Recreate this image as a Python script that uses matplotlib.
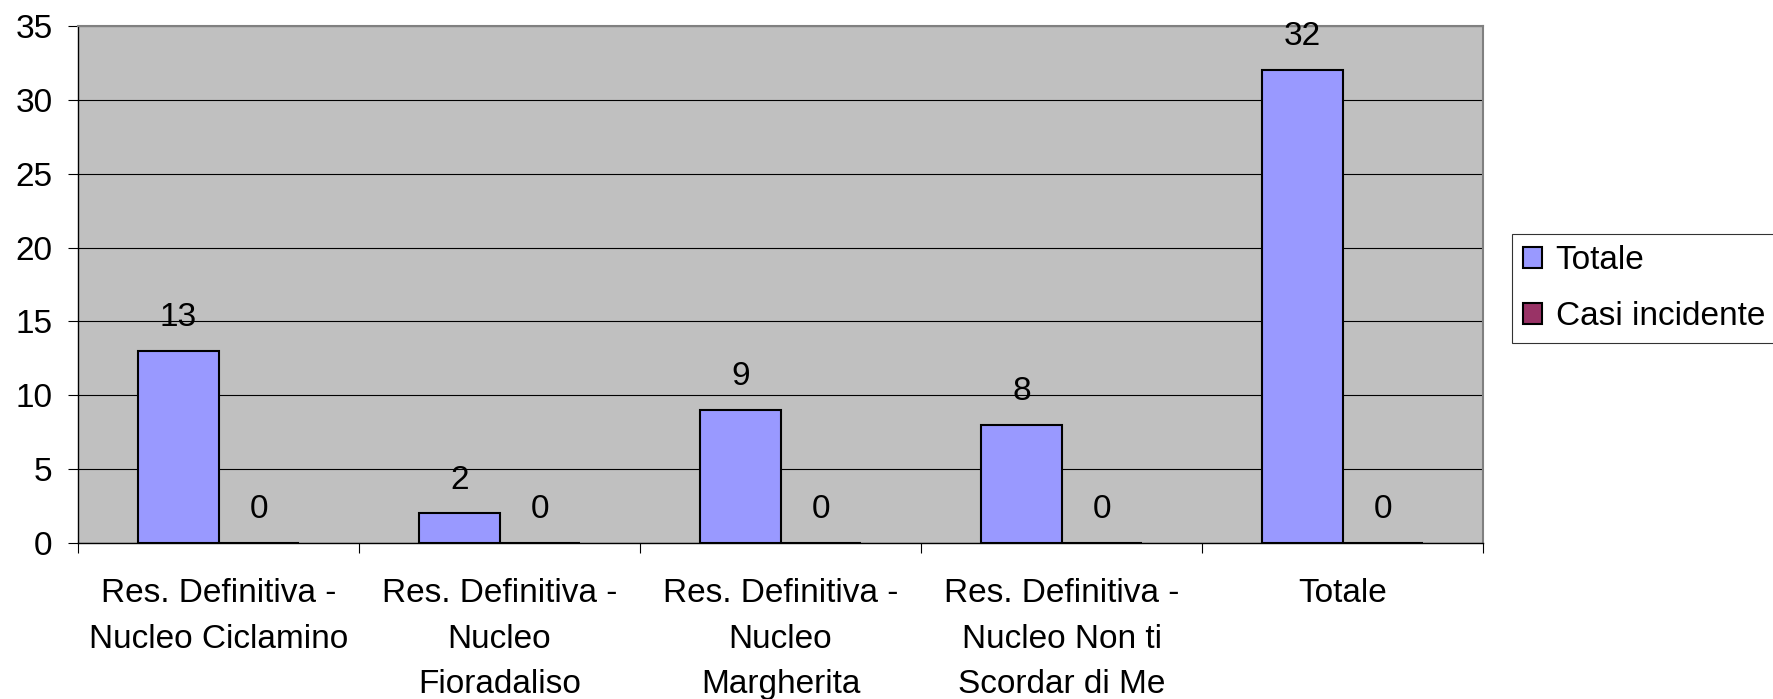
import matplotlib
matplotlib.use("Agg")
import matplotlib.pyplot as plt
import numpy as np

categories = ["Res. Definitiva -\nNucleo Ciclamino",
              "Res. Definitiva -\nNucleo\nFioradaliso",
              "Res. Definitiva -\nNucleo\nMargherita",
              "Res. Definitiva -\nNucleo Non ti\nScordar di Me",
              "Totale"]
totale = [13, 2, 9, 8, 32]
casi_incidente = [0, 0, 0, 0, 0]
series_names = ["Totale", "Casi incidente"]
yticks = [0, 5, 10, 15, 20, 25, 30, 35]

plt.rcParams['font.family'] = ['Liberation Sans', 'DejaVu Sans']
FS = 24

fig = plt.figure(figsize=(17.73, 6.99), dpi=100)
ax = fig.add_axes([78/1773, 1-543/699, (1483-78)/1773, (543-26)/699])
ax.set_facecolor('#C0C0C0')

x = np.arange(len(categories))
bw = 1/3.5
b1 = ax.bar(x - bw/2, totale, bw, color='#9999FF', edgecolor='black', linewidth=1.5,
            label=series_names[0], zorder=3)
b2 = ax.bar(x + bw/2, casi_incidente, bw, color='#993366', edgecolor='black', linewidth=1.5,
            label=series_names[1], zorder=3)

for bars, vals in ((b1, totale), (b2, casi_incidente)):
    for r, v in zip(bars, vals):
        ax.annotate(str(v), (r.get_x() + r.get_width()/2, v), xytext=(0, 24),
                    textcoords='offset points', ha='center', va='center', fontsize=FS)

ax.set_xlim(-0.5, len(categories) - 0.5)
ax.set_ylim(0, 35)
ax.set_yticks(yticks)
ax.set_yticklabels([str(t) for t in yticks])
ax.yaxis.grid(True, color='black', linewidth=0.8, zorder=1)
ax.set_axisbelow(True)

ax.set_xticks(x)
ax.set_xticklabels(categories, fontsize=FS, linespacing=1.62)
ax.tick_params(axis='x', which='major', length=0, pad=25)
ax.set_xticks(np.arange(len(categories) + 1) - 0.5, minor=True)
ax.tick_params(axis='x', which='minor', length=7.2, width=0.8, direction='out')
ax.tick_params(axis='y', length=7.2, width=0.8, direction='out', pad=11, labelsize=FS)

for s in ('top', 'right'):
    ax.spines[s].set_color('#808080')
    ax.spines[s].set_linewidth(1.5)
for s in ('left', 'bottom'):
    ax.spines[s].set_color('black')
    ax.spines[s].set_linewidth(1.0)

leg = fig.legend(handles=[b1, b2], labels=series_names, loc='upper left',
                 bbox_to_anchor=(1512/1773, 1-234/699), bbox_transform=fig.transFigure,
                 fontsize=FS, frameon=True, fancybox=False, shadow=False,
                 handlelength=0.58, handleheight=0.58, handletextpad=0.4,
                 borderpad=0.33, labelspacing=0.75, borderaxespad=0)
leg.get_frame().set_edgecolor('black')
leg.get_frame().set_linewidth(0.8)

fig.savefig('out.png', dpi=100)
